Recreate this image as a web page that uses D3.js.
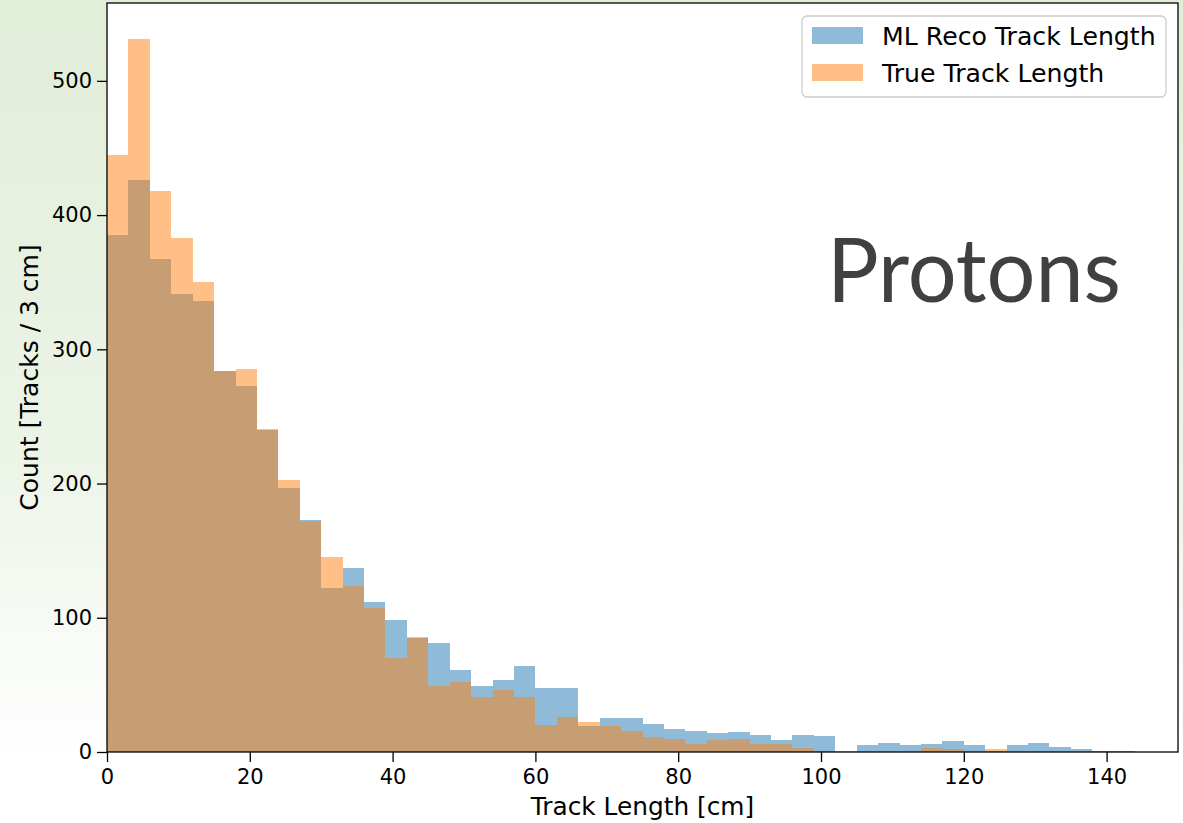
<!DOCTYPE html>
<html lang="en">
<meta charset="utf-8">
<script src="https://d3js.org/d3.v7.min.js"></script>
<style>
  body { margin: 0; }
  text { font-family: "DejaVu Sans", sans-serif; }
</style>
<div id="my_dataviz"></div>
<script>

// bin edges: 3 cm bins starting at 0
var binWidth = 3;
// ML Reco track length counts per bin
var recoCounts = [385, 426, 367, 341, 336, 284, 273, 240, 197, 173,
                  122, 137, 112, 98, 85, 81, 61, 49, 54, 64,
                  48, 48, 19, 25, 25, 21, 17, 16, 14, 15,
                  13, 9, 13, 12, 0, 5, 7, 5, 6, 8,
                  5, 1, 5, 7, 4, 2, 1, 1];
// True track length counts per bin
var trueCounts = [445, 531, 418, 383, 350, 284, 285, 241, 203, 172,
                  145, 124, 107, 70, 86, 49, 52, 41, 46, 41,
                  20, 26, 22, 19, 16, 11, 10, 6, 9, 10,
                  6, 6, 3, 1, 1, 0, 0, 0, 3, 2,
                  0, 2, 0, 0, 0, 0, 1, 0];
var seriesNames = ["ML Reco Track Length", "True Track Length"];
var xTicks = [0, 20, 40, 60, 80, 100, 120, 140];
var yTicks = [0, 100, 200, 300, 400, 500];

var W = 1183, H = 823;
var margin = {top: 3, right: 5, bottom: 71, left: 107},
    width = W - margin.left - margin.right,
    height = H - margin.top - margin.bottom;

var root = d3.select("#my_dataviz")
  .append("svg")
    .attr("width", W)
    .attr("height", H);

// slide background behind the transparent figure
var grad = root.append("defs").append("linearGradient")
  .attr("id", "bg").attr("x1", 0).attr("y1", 0).attr("x2", 0).attr("y2", 1);
grad.append("stop").attr("offset", "0%").attr("stop-color", "#e1eed8");
grad.append("stop").attr("offset", "55%").attr("stop-color", "#ecf4e7");
grad.append("stop").attr("offset", "92%").attr("stop-color", "#ffffff");
root.append("rect").attr("width", W).attr("height", H).attr("fill", "url(#bg)");

var svg = root.append("g")
  .attr("transform", "translate(" + margin.left + "," + margin.top + ")");

svg.append("rect").attr("width", width).attr("height", height).attr("fill", "#fff");

var x = d3.scaleLinear().domain([0, 150]).range([0, width]);
var y = d3.scaleLinear().domain([0, 558]).range([height, 0]);

function drawHist(counts, color) {
  svg.append("g")
    .selectAll("rect")
    .data(counts)
    .enter()
    .append("rect")
      .attr("x", function(d, i) { return x(i * binWidth); })
      .attr("width", function(d, i) { return x((i + 1) * binWidth) - x(i * binWidth); })
      .attr("y", function(d) { return y(d); })
      .attr("height", function(d) { return y(0) - y(d); })
      .attr("fill", color)
      .attr("fill-opacity", 0.5)
      .attr("shape-rendering", "crispEdges");
}
drawHist(recoCounts, "#1f77b4");
drawHist(trueCounts, "#ff7f0e");

// axes
var xAxis = svg.append("g")
  .attr("transform", "translate(0," + height + ")")
  .call(d3.axisBottom(x).tickValues(xTicks).tickSize(10).tickPadding(7));
var yAxis = svg.append("g")
  .call(d3.axisLeft(y).tickValues(yTicks).tickSize(10).tickPadding(5));
[xAxis, yAxis].forEach(function(a) {
  a.select(".domain").remove();
  a.selectAll("line").attr("stroke", "#000").attr("stroke-width", 1.3);
  a.selectAll("text").style("font-size", "21px").attr("fill", "#000")
    .style("font-family", "DejaVu Sans");
});

// spines
svg.append("rect")
  .attr("width", width).attr("height", height)
  .attr("fill", "none").attr("stroke", "#000").attr("stroke-width", 1.3);

// axis labels
svg.append("text")
  .attr("x", width / 2).attr("y", 815 - margin.top)
  .attr("text-anchor", "middle")
  .style("font-size", "24.8px")
  .text("Track Length [cm]");

svg.append("text")
  .attr("transform", "translate(" + (38 - margin.left) + "," + (height / 2) + ") rotate(-90)")
  .attr("text-anchor", "middle")
  .style("font-size", "25px")
  .text("Count [Tracks / 3 cm]");

// legend
var legend = root.append("g");
legend.append("rect")
  .attr("x", 802).attr("y", 16).attr("width", 364).attr("height", 81).attr("rx", 5)
  .attr("fill", "#fff").attr("fill-opacity", 0.8)
  .attr("stroke", "#cccccc").attr("stroke-width", 1.3);
var legendColors = ["#1f77b4", "#ff7f0e"];
seriesNames.forEach(function(name, i) {
  legend.append("rect")
    .attr("x", 812).attr("y", 27 + i * 37).attr("width", 51).attr("height", 17)
    .attr("fill", legendColors[i]).attr("fill-opacity", 0.5);
  legend.append("text")
    .attr("x", 882).attr("y", 45 + i * 37)
    .style("font-size", "25.2px")
    .text(name);
});

// slide annotation
root.append("text")
  .attr("x", 827).attr("y", 302)
  .attr("textLength", 294).attr("lengthAdjust", "spacingAndGlyphs")
  .style("font-family", "Lato, 'Open Sans', sans-serif")
  .style("font-size", "89px")
  .attr("fill", "#404040")
  .text("Protons");

</script>
</html>
